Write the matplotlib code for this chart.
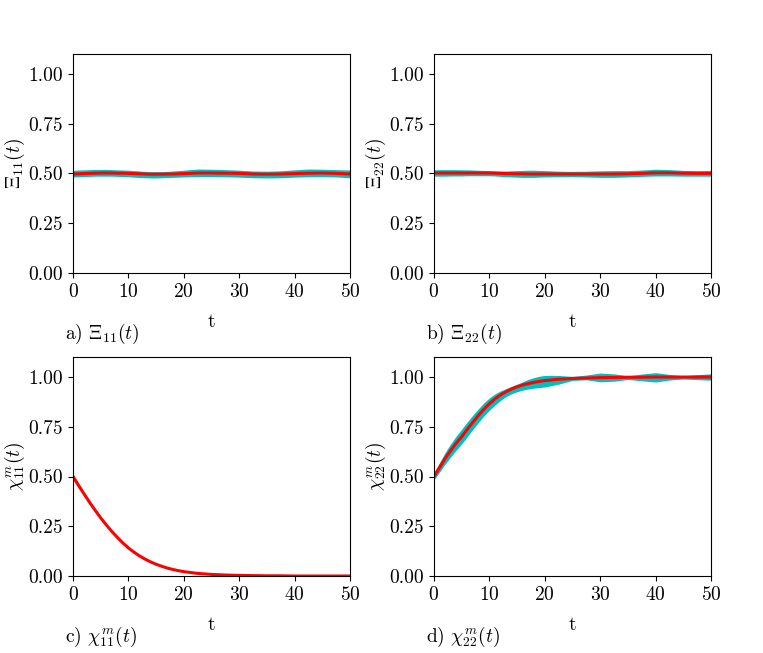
import numpy as np
import matplotlib
matplotlib.use("Agg")
import matplotlib.pyplot as plt

# Computer Modern look without a LaTeX install
plt.rcParams['font.family'] = 'serif'
plt.rcParams['font.serif'] = ['cmr10', 'DejaVu Serif']
plt.rcParams['mathtext.fontset'] = 'cm'
plt.rcParams['axes.unicode_minus'] = False
plt.rcParams['axes.formatter.use_mathtext'] = True
plt.rcParams['font.size'] = 14

# time grid shared by all panels (finer where chi_22 bends)
t = [0, 1, 2, 3, 4, 5, 6, 7, 8, 9, 10, 11, 12, 13, 14, 15, 16, 17, 18, 19, 20,
     22.5, 25, 27.5, 30, 32.5, 35, 37.5, 40, 42.5, 45, 47.5, 50]

# a) Xi_11 : ensemble mean and spread of trajectories
xi11_mean = [0.497, 0.498, 0.499, 0.500, 0.501, 0.502, 0.502, 0.502, 0.501, 0.501, 0.500,
             0.499, 0.498, 0.497, 0.496, 0.496, 0.496, 0.497, 0.497, 0.498, 0.499,
             0.502, 0.502, 0.501, 0.500, 0.497, 0.496, 0.497, 0.499, 0.501, 0.502, 0.500, 0.497]
xi11_hi = [0.515, 0.517, 0.518, 0.519, 0.520, 0.520, 0.520, 0.519, 0.518, 0.517, 0.516,
           0.514, 0.512, 0.510, 0.509, 0.509, 0.509, 0.510, 0.512, 0.514, 0.516,
           0.522, 0.521, 0.519, 0.516, 0.512, 0.511, 0.513, 0.518, 0.522, 0.521, 0.519, 0.517]
xi11_lo = [0.482, 0.483, 0.484, 0.485, 0.486, 0.486, 0.486, 0.486, 0.485, 0.484, 0.483,
           0.481, 0.479, 0.478, 0.477, 0.477, 0.478, 0.479, 0.480, 0.481, 0.482,
           0.484, 0.484, 0.483, 0.481, 0.478, 0.477, 0.478, 0.481, 0.483, 0.484, 0.482, 0.478]

# b) Xi_22
xi22_mean = [0.502, 0.502, 0.502, 0.502, 0.502, 0.502, 0.502, 0.502, 0.502, 0.502, 0.502,
             0.501, 0.500, 0.499, 0.499, 0.498, 0.498, 0.497, 0.497, 0.497, 0.497,
             0.497, 0.497, 0.497, 0.497, 0.497, 0.498, 0.500, 0.503, 0.503, 0.501, 0.500, 0.500]
xi22_hi = [0.518, 0.519, 0.519, 0.519, 0.519, 0.518, 0.518, 0.517, 0.516, 0.515, 0.514,
           0.513, 0.512, 0.512, 0.513, 0.514, 0.515, 0.516, 0.516, 0.515, 0.514,
           0.511, 0.510, 0.511, 0.513, 0.514, 0.514, 0.517, 0.521, 0.519, 0.515, 0.514, 0.515]
xi22_lo = [0.486, 0.486, 0.486, 0.487, 0.487, 0.487, 0.488, 0.488, 0.488, 0.488, 0.488,
           0.487, 0.485, 0.483, 0.482, 0.481, 0.480, 0.480, 0.480, 0.481, 0.482,
           0.483, 0.484, 0.482, 0.480, 0.480, 0.482, 0.485, 0.487, 0.487, 0.486, 0.486, 0.486]

# c) chi^m_11
chi11_mean = [0.500, 0.455, 0.412, 0.370, 0.330, 0.292, 0.257, 0.224, 0.194, 0.166, 0.141,
              0.120, 0.101, 0.085, 0.071, 0.059, 0.049, 0.040, 0.033, 0.027, 0.022,
              0.013, 0.008, 0.005, 0.003, 0.002, 0.001, 0.001, 0.000, 0.000, 0.000, 0.000, 0.000]
chi11_hi = [0.512, 0.466, 0.422, 0.379, 0.338, 0.299, 0.263, 0.229, 0.198, 0.169, 0.143,
            0.121, 0.102, 0.086, 0.072, 0.060, 0.049, 0.040, 0.033, 0.027, 0.022,
            0.013, 0.008, 0.005, 0.003, 0.002, 0.001, 0.001, 0.000, 0.000, 0.000, 0.000, 0.000]
chi11_lo = [0.488, 0.444, 0.402, 0.361, 0.322, 0.285, 0.251, 0.219, 0.190, 0.163, 0.139,
            0.119, 0.100, 0.084, 0.070, 0.058, 0.048, 0.040, 0.033, 0.027, 0.022,
            0.013, 0.008, 0.005, 0.003, 0.002, 0.001, 0.001, 0.000, 0.000, 0.000, 0.000, 0.000]

# d) chi^m_22
chi22_mean = [0.500, 0.545, 0.590, 0.630, 0.667, 0.700, 0.737, 0.772, 0.806, 0.838, 0.866,
              0.890, 0.910, 0.926, 0.940, 0.951, 0.960, 0.967, 0.973, 0.978, 0.982,
              0.989, 0.993, 0.995, 0.997, 0.998, 0.999, 0.999, 1.000, 1.000, 1.000, 1.000, 1.000]
chi22_hi = [0.518, 0.570, 0.620, 0.664, 0.703, 0.738, 0.774, 0.808, 0.840, 0.870, 0.895,
            0.915, 0.930, 0.942, 0.953, 0.964, 0.976, 0.988, 0.997, 1.004, 1.008,
            1.008, 1.003, 1.010, 1.020, 1.016, 1.006, 1.015, 1.022, 1.013, 1.006, 1.012, 1.016]
chi22_lo = [0.484, 0.522, 0.562, 0.598, 0.632, 0.664, 0.700, 0.736, 0.771, 0.804, 0.833,
            0.859, 0.882, 0.902, 0.916, 0.926, 0.934, 0.940, 0.944, 0.947, 0.950,
            0.964, 0.983, 0.986, 0.976, 0.979, 0.988, 0.981, 0.975, 0.985, 0.990, 0.987, 0.984]

panels = [
    (xi11_mean, xi11_lo, xi11_hi, r'$\Xi_{11}(t)$', r'a) $\Xi_{11}(t)$'),
    (xi22_mean, xi22_lo, xi22_hi, r'$\Xi_{22}(t)$', r'b) $\Xi_{22}(t)$'),
    (chi11_mean, chi11_lo, chi11_hi, r'$\chi^m_{11}(t)$', r'c) $\chi^m_{11}(t)$'),
    (chi22_mean, chi22_lo, chi22_hi, r'$\chi^m_{22}(t)$', r'd) $\chi^m_{22}(t)$'),
]

fig, axes = plt.subplots(2, 2, figsize=(7.63, 6.53), dpi=100)
fig.subplots_adjust(left=0.0957, right=0.9318, top=0.9173, bottom=0.1179,
                    wspace=0.303, hspace=0.385)

for ax, (mean, lo, hi, ylab, tag) in zip(axes.flat, panels):
    ax.fill_between(t, lo, hi, color='c', linewidth=0)
    ax.plot(t, mean, color='r', linewidth=2.2)
    ax.set_xlim(0, 50)
    ax.set_ylim(0, 1.1)
    ax.set_xticks([0, 10, 20, 30, 40, 50])
    ax.set_yticks([0.0, 0.25, 0.5, 0.75, 1.0])
    ax.set_yticklabels(['0.00', '0.25', '0.50', '0.75', '1.00'])
    ax.set_xlabel('t', labelpad=9)
    ax.set_ylabel(ylab, labelpad=1)
    ax.text(-0.03, -0.28, tag, transform=ax.transAxes, ha='left', va='center')

fig.savefig('out.png', dpi=100)
